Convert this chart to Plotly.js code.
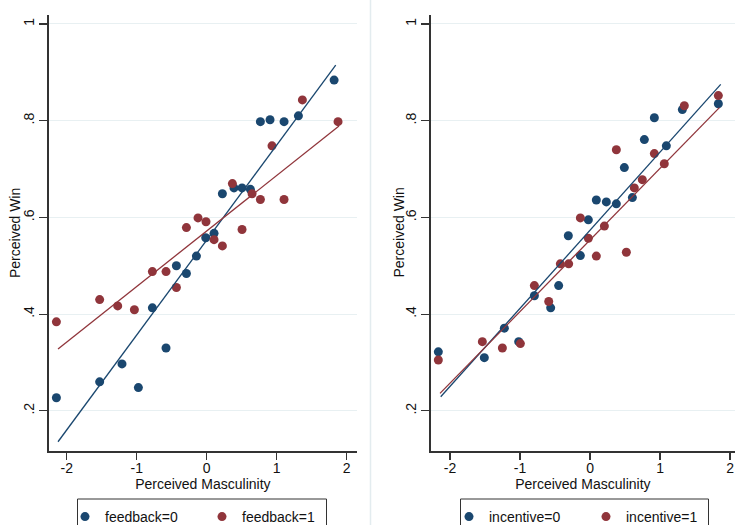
<!DOCTYPE html>
<html>
<head>
<meta charset="utf-8">
<script src="https://cdn.plot.ly/plotly-3.0.1.min.js"></script>
<style>html,body{margin:0;padding:0;background:#fff;}#chart{width:735px;height:525px;}</style>
</head>
<body>
<div id="chart"></div>
<script>
// Tick values and labels
const xTickVals = [-2, -1, 0, 1, 2];
const xTickText = ['-2', '-1', '0', '1', '2'];
const yTickVals = [0.2, 0.4, 0.6, 0.8, 1];
const yTickText = ['.2', '.4', '.6', '.8', '1'];
const xTitle = 'Perceived Masculinity';
const yTitle = 'Perceived Win';

// Left panel: feedback
const fb0Name = 'feedback=0';
const fb0X = [-2.147,-1.529,-1.21,-0.976,-0.776,-0.581,-0.433,-0.29,-0.147,-0.014,0.105,0.224,0.39,0.505,0.624,0.767,0.905,1.105,1.31,1.82];
const fb0Y = [0.227,0.260,0.297,0.248,0.413,0.330,0.500,0.484,0.520,0.558,0.567,0.649,0.661,0.661,0.658,0.798,0.802,0.798,0.810,0.884];
const fb1Name = 'feedback=1';
const fb1X = [-2.147,-1.529,-1.271,-1.033,-0.776,-0.581,-0.433,-0.29,-0.124,-0.01,0.105,0.224,0.367,0.505,0.648,0.767,0.933,1.105,1.367,1.876];
const fb1Y = [0.384,0.430,0.417,0.409,0.488,0.488,0.455,0.579,0.599,0.591,0.554,0.541,0.670,0.575,0.649,0.637,0.748,0.637,0.843,0.798];
const fb0FitX = [-2.124, 1.843];
const fb0FitY = [0.136, 0.915];
const fb1FitX = [-2.124, 1.89];
const fb1FitY = [0.328, 0.789];

// Right panel: incentive
const in0Name = 'incentive=0';
const in0X = [-2.167,-1.51,-1.224,-1.019,-0.795,-0.562,-0.448,-0.31,-0.138,-0.024,0.09,0.233,0.376,0.49,0.605,0.776,0.919,1.09,1.319,1.833];
const in0Y = [0.322,0.310,0.371,0.343,0.438,0.413,0.459,0.562,0.521,0.595,0.636,0.632,0.628,0.703,0.641,0.761,0.806,0.748,0.823,0.835];
const in1Name = 'incentive=1';
const in1X = [-2.167,-1.538,-1.252,-0.995,-0.795,-0.59,-0.424,-0.305,-0.138,-0.024,0.09,0.205,0.376,0.519,0.633,0.747,0.919,1.061,1.347,1.833];
const in1Y = [0.305,0.343,0.330,0.339,0.459,0.426,0.504,0.504,0.599,0.557,0.520,0.582,0.740,0.528,0.661,0.678,0.732,0.711,0.831,0.852];
const in0FitX = [-2.133, 1.867];
const in0FitY = [0.229, 0.875];
const in1FitX = [-2.143, 1.848];
const in1FitY = [0.236, 0.827];

const NAVY = '#1a476f';
const MAROON = '#90353b';
const FONT = 'Liberation Sans, Arial, Helvetica, sans-serif';
const W = 735, H = 525;

function pts(x, y, name, color, xa, ya, leg) {
  return {type: 'scatter', mode: 'markers', x: x, y: y, name: name, xaxis: xa, yaxis: ya, legend: leg,
    marker: {color: color, size: 9, line: {width: 0}}, hoverinfo: 'x+y'};
}
function fit(x, y, color, xa, ya) {
  return {type: 'scatter', mode: 'lines', x: x, y: y, xaxis: xa, yaxis: ya, showlegend: false,
    line: {color: color, width: 1.3}, hoverinfo: 'skip'};
}

const data = [
  pts(fb0X, fb0Y, fb0Name, NAVY, 'x', 'y', 'legend'),
  pts(fb1X, fb1Y, fb1Name, MAROON, 'x', 'y', 'legend'),
  fit(fb0FitX, fb0FitY, NAVY, 'x', 'y'),
  fit(fb1FitX, fb1FitY, MAROON, 'x', 'y'),
  pts(in0X, in0Y, in0Name, NAVY, 'x2', 'y2', 'legend2'),
  pts(in1X, in1Y, in1Name, MAROON, 'x2', 'y2', 'legend2'),
  fit(in0FitX, in0FitY, NAVY, 'x2', 'y2'),
  fit(in1FitX, in1FitY, MAROON, 'x2', 'y2')
];

function xAxis(domain, range, anchor) {
  return {domain: domain, range: range, anchor: anchor, tickvals: xTickVals, ticktext: xTickText,
    ticks: 'outside', ticklen: 7, tickwidth: 1.2, tickcolor: '#333', showline: true, linecolor: '#333', linewidth: 1.5,
    showgrid: false, zeroline: false, tickfont: {size: 14, color: '#111'}, ticklabelstandoff: -3,
    title: {text: xTitle, font: {size: 14, color: '#111'}, standoff: 2}, automargin: false};
}
function yAxis(domain, anchor) {
  return {domain: domain, range: [0.1169, 1.0186], anchor: anchor, tickvals: yTickVals, ticktext: yTickText,
    tickangle: -90, ticks: 'outside', ticklen: 8, tickwidth: 1.2, tickcolor: '#333', showline: true, linecolor: '#333', linewidth: 1.5,
    showgrid: true, gridcolor: '#e8f0f2', gridwidth: 1, zeroline: false, tickfont: {size: 14, color: '#111'},
    automargin: false};
}

const legendBase = {orientation: 'h', xanchor: 'left', yanchor: 'top', y: 24/H,
  borderwidth: 0, bgcolor: 'rgba(0,0,0,0)', font: {size: 14, color: '#111', family: FONT},
  entrywidth: 92, entrywidthmode: 'pixels', itemclick: false, itemdoubleclick: false};

function yTitleAnn(xPx) {
  return {xref: 'paper', yref: 'paper', x: xPx/W, y: (H - 233)/H, xanchor: 'center', yanchor: 'middle',
    text: yTitle, textangle: -90, showarrow: false, font: {size: 14, color: '#111', family: FONT}};
}

const layout = {
  width: W, height: H,
  margin: {l: 0, r: 0, t: 0, b: 0, autoexpand: false},
  paper_bgcolor: '#fff', plot_bgcolor: '#fff',
  font: {family: FONT, color: '#111'},
  showlegend: true,
  xaxis: xAxis([48.7/W, 357/W], [-2.257, 2.147], 'y'),
  yaxis: yAxis([74/H, 510/H], 'x'),
  xaxis2: xAxis([430.7/W, 1], [-2.276, 2.071], 'y2'),
  yaxis2: yAxis([74/H, 510/H], 'x2'),
  legend: Object.assign({}, legendBase, {x: 65/W}),
  legend2: Object.assign({}, legendBase, {x: 449/W}),
  annotations: [yTitleAnn(15), yTitleAnn(398.5)],
  shapes: [
    {type: 'line', xref: 'paper', yref: 'paper', x0: 370.5/W, x1: 370.5/W, y0: 0, y1: 1,
      line: {color: '#e3ecef', width: 1.5}},
    {type: 'rect', xref: 'paper', yref: 'paper', x0: 77.5/W, x1: 326.5/W, y0: -0.05, y1: 26/H,
      line: {color: '#333', width: 1}, fillcolor: 'rgba(0,0,0,0)'},
    {type: 'rect', xref: 'paper', yref: 'paper', x0: 460.5/W, x1: 708.5/W, y0: -0.05, y1: 26/H,
      line: {color: '#333', width: 1}, fillcolor: 'rgba(0,0,0,0)'}
  ]
};

Plotly.newPlot('chart', data, layout, {displayModeBar: false, staticPlot: true});
</script>
</body>
</html>
